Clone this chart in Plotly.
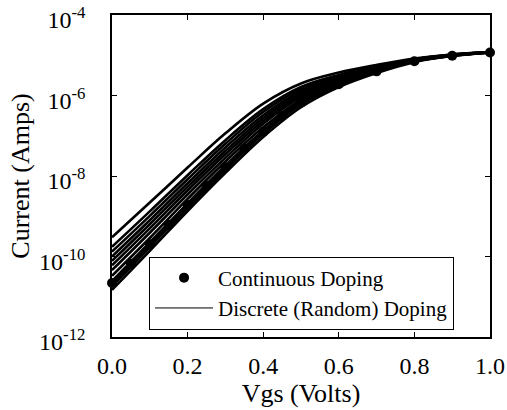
import numpy as np
import plotly.graph_objects as go

# Continuous doping (dots)
cont_vgs = [0.0, 0.05, 0.10, 0.15, 0.20, 0.25, 0.30, 0.35, 0.40, 0.45, 0.50, 0.60, 0.70, 0.80, 0.90, 1.00]
cont_current = [2.19e-11, 6.61e-11, 2.00e-10, 6.17e-10, 1.91e-9, 5.62e-9, 1.66e-8, 4.79e-8,
                1.26e-7, 3.09e-7, 6.61e-7, 1.91e-6, 3.98e-6, 7.08e-6, 9.77e-6, 1.17e-5]

# Discrete (random) doping devices, log10(current)
disc_vgs = [0.0, 0.1, 0.2, 0.3, 0.4, 0.5, 0.6, 0.7, 0.8, 0.9, 1.0]
dev01 = [-9.52, -8.66, -7.79, -6.94, -6.20, -5.70, -5.43, -5.24, -5.08, -4.98, -4.92]
dev02 = [-9.76, -8.88, -7.98, -7.11, -6.34, -5.79, -5.49, -5.27, -5.10, -4.98, -4.92]
dev03 = [-9.88, -8.99, -8.08, -7.20, -6.41, -5.84, -5.52, -5.29, -5.10, -4.99, -4.92]
dev04 = [-10.00, -9.10, -8.18, -7.29, -6.49, -5.89, -5.55, -5.31, -5.11, -4.99, -4.92]
dev05 = [-10.11, -9.20, -8.27, -7.38, -6.56, -5.94, -5.58, -5.32, -5.12, -4.99, -4.92]
dev06 = [-10.22, -9.30, -8.36, -7.46, -6.63, -5.99, -5.61, -5.34, -5.12, -5.00, -4.93]
dev07 = [-10.34, -9.41, -8.46, -7.55, -6.70, -6.04, -5.64, -5.36, -5.13, -5.00, -4.93]
dev08 = [-10.48, -9.54, -8.57, -7.64, -6.79, -6.10, -5.67, -5.37, -5.14, -5.00, -4.93]
dev09 = [-10.61, -9.65, -8.68, -7.74, -6.87, -6.16, -5.71, -5.39, -5.15, -5.01, -4.93]
dev10 = [-10.74, -9.77, -8.79, -7.84, -6.95, -6.22, -5.74, -5.41, -5.15, -5.01, -4.93]
dev11 = [-10.83, -9.86, -8.87, -7.92, -7.03, -6.29, -5.79, -5.44, -5.17, -5.02, -4.93]
devices = [dev01, dev02, dev03, dev04, dev05, dev06, dev07, dev08, dev09, dev10, dev11]

y_tickvals = [1e-12, 1e-10, 1e-8, 1e-6, 1e-4]
y_ticktext = ["10<sup>-12</sup>", "10<sup>-10</sup>", "10<sup>-8</sup>", "10<sup>-6</sup>", "10<sup>-4</sup>"]
x_tickvals = [0.0, 0.2, 0.4, 0.6, 0.8, 1.0]
x_ticktext = ["0.0", "0.2", "0.4", "0.6", "0.8", "1.0"]

SERIF = "Times New Roman, Times, Liberation Serif, DejaVu Serif, serif"

fig = go.Figure()
for dev in devices:
    fig.add_trace(go.Scatter(
        x=disc_vgs, y=np.power(10.0, np.array(dev)), mode="lines",
        line=dict(color="black", width=2.6, shape="spline", smoothing=1.0),
        showlegend=False, hoverinfo="skip"))

fig.add_trace(go.Scatter(
    x=cont_vgs, y=cont_current, mode="lines+markers",
    line=dict(color="black", width=2.6, shape="spline", smoothing=1.0),
    marker=dict(color="black", size=10),
    showlegend=False, cliponaxis=False))

# legend entries
fig.add_trace(go.Scatter(x=[None], y=[None], mode="markers",
                         marker=dict(color="black", size=10),
                         name="Continuous Doping"))
fig.add_trace(go.Scatter(x=[None], y=[None], mode="lines",
                         line=dict(color="black", width=1),
                         name="Discrete (Random) Doping"))

fig.update_layout(
    width=507, height=410,
    margin=dict(l=112, r=17, t=15, b=73, autoexpand=False),
    paper_bgcolor="white", plot_bgcolor="white",
    font=dict(family=SERIF, color="black"),
    legend=dict(x=0.098, y=0.25, xanchor="left", yanchor="top",
                bordercolor="black", borderwidth=1, bgcolor="white",
                font=dict(family=SERIF, size=21, color="black"),
                itemwidth=58, tracegroupgap=0, traceorder="normal"),
)
fig.update_xaxes(
    range=[0, 1], tickvals=x_tickvals, ticktext=x_ticktext,
    ticks="inside", ticklen=5, tickcolor="black", tickwidth=1,
    showline=True, linecolor="black", linewidth=1.5, mirror="ticks",
    showgrid=False, zeroline=False, automargin=False, ticklabeloverflow="allow",
    tickfont=dict(family=SERIF, size=24, color="black"),
    ticklabelstandoff=6,
    title=dict(text="Vgs (Volts)", font=dict(family=SERIF, size=26, color="black"), standoff=5),
)
fig.update_yaxes(
    type="log", range=[-12.0005, -3.9995], tickvals=y_tickvals, ticktext=y_ticktext,
    ticks="inside", ticklen=5, tickcolor="black", tickwidth=1,
    showline=True, linecolor="black", linewidth=1.5, mirror="ticks",
    showgrid=False, zeroline=False, automargin=False, ticklabeloverflow="allow",
    tickfont=dict(family=SERIF, size=24, color="black"),
    ticklabelstandoff=20, ticklabelshift=5,
    title=dict(text="Current (Amps)", font=dict(family=SERIF, size=26, color="black"), standoff=2),
)

fig.write_html("out.html")
